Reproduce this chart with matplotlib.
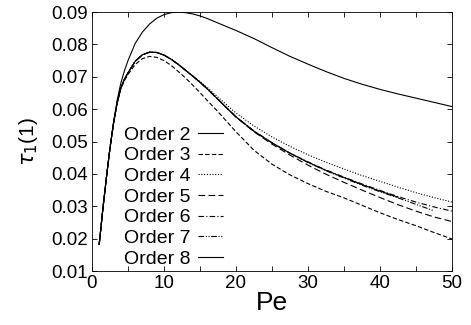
#import
import matplotlib
matplotlib.use("Agg")
import matplotlib.pyplot as plt

plt.rcParams['font.family'] = ['Liberation Sans', 'DejaVu Sans']
plt.rcParams['mathtext.fontset'] = 'dejavusans'

#data
pe = [1, 1.5, 2, 2.5, 3, 3.5, 4, 4.5, 5, 6, 7, 8, 9, 10, 11, 12, 13, 14, 15, 16,
      17.5, 20, 22.5, 25, 27.5, 30, 32.5, 35, 37.5, 40, 42.5, 45, 47.5, 50]

order2 = [0.0182, 0.0290, 0.0388, 0.0480, 0.0560, 0.0628, 0.0680, 0.0718, 0.0750, 0.0803,
          0.0838, 0.0863, 0.0881, 0.0892, 0.0898, 0.0900, 0.0898, 0.0894, 0.0888, 0.0880,
          0.0866, 0.0843, 0.0818, 0.0790, 0.0763, 0.0739, 0.0716, 0.0695, 0.0677, 0.0661,
          0.0647, 0.0634, 0.0621, 0.0608]
order3 = [0.0182, 0.0290, 0.0388, 0.0480, 0.0557, 0.0618, 0.0662, 0.0688, 0.0707, 0.0738,
          0.0756, 0.0763, 0.0760, 0.0750, 0.0735, 0.0716, 0.0696, 0.0674, 0.0651, 0.0627,
          0.0592, 0.0530, 0.0473, 0.0430, 0.0397, 0.0370, 0.0346, 0.0326, 0.0303, 0.0280,
          0.0259, 0.0240, 0.0219, 0.0199]
order4 = [0.0182, 0.0290, 0.0388, 0.0480, 0.0558, 0.0620, 0.0665, 0.0692, 0.0712, 0.0748,
          0.0768, 0.0776, 0.0775, 0.0767, 0.0754, 0.0738, 0.0720, 0.0702, 0.0685, 0.0667,
          0.0637, 0.0588, 0.0548, 0.0514, 0.0485, 0.0459, 0.0436, 0.0415, 0.0395, 0.0377,
          0.0359, 0.0342, 0.0327, 0.0313]
order5 = [0.0182, 0.0290, 0.0388, 0.0480, 0.0558, 0.0620, 0.0665, 0.0692, 0.0712, 0.0748,
          0.0768, 0.0776, 0.0775, 0.0767, 0.0754, 0.0738, 0.0720, 0.0702, 0.0683, 0.0663,
          0.0630, 0.0576, 0.0530, 0.0492, 0.0458, 0.0427, 0.0399, 0.0374, 0.0350, 0.0327,
          0.0305, 0.0285, 0.0267, 0.0253]
order6 = [0.0182, 0.0290, 0.0388, 0.0480, 0.0558, 0.0620, 0.0665, 0.0692, 0.0712, 0.0748,
          0.0768, 0.0776, 0.0775, 0.0767, 0.0754, 0.0738, 0.0720, 0.0702, 0.0683, 0.0663,
          0.0630, 0.0576, 0.0532, 0.0496, 0.0464, 0.0437, 0.0412, 0.0390, 0.0369, 0.0349,
          0.0330, 0.0313, 0.0298, 0.0285]
# orders 7 and 8 stop before Pe = 50
order7 = [0.0182, 0.0290, 0.0388, 0.0480, 0.0558, 0.0620, 0.0665, 0.0692, 0.0712, 0.0748,
          0.0768, 0.0776, 0.0775, 0.0767, 0.0754, 0.0738, 0.0720, 0.0702, 0.0683, 0.0663,
          0.0630, 0.0576, 0.0532, 0.0496, 0.0464, 0.0435, 0.0410, 0.0387, 0.0365, 0.0345,
          0.0326, 0.0306, 0.0286]
order8 = [0.0182, 0.0290, 0.0388, 0.0480, 0.0558, 0.0620, 0.0665, 0.0692, 0.0712, 0.0748,
          0.0768, 0.0776, 0.0775, 0.0767, 0.0754, 0.0738, 0.0720, 0.0702, 0.0683, 0.0663,
          0.0630, 0.0576, 0.0532, 0.0496, 0.0464, 0.0436, 0.0411, 0.0389, 0.0367, 0.0347,
          0.0328]

labels = ["Order 2", "Order 3", "Order 4", "Order 5", "Order 6", "Order 7", "Order 8"]
curves = [order2, order3, order4, order5, order6, order7, order8]
styles = ['-', (0, (4, 2)), (0, (1, 1.5)), (0, (6, 3)), (0, (5, 2, 1, 2)),
          (0, (5, 1.5, 1, 1.5, 1, 1.5)), '-']

#plot
fig = plt.figure(figsize=(4.71, 3.25), dpi=100)
ax = fig.add_axes([0.1953, 0.166, 0.7644, 0.797])

for lab, y, ls in zip(labels, curves, styles):
    ax.plot(pe[:len(y)], y, color='black', linestyle=ls, linewidth=0.8, label=lab)

ax.set_xlim(0, 50)
ax.set_ylim(0.01, 0.09)
ax.set_xticks([0, 10, 20, 30, 40, 50])
ax.set_xticks([5, 15, 25, 35, 45], minor=True)
ax.set_yticks([0.01, 0.02, 0.03, 0.04, 0.05, 0.06, 0.07, 0.08, 0.09])
ax.set_yticklabels(["%.2f" % v for v in ax.get_yticks()])
ax.tick_params(which='both', direction='in', top=True, right=True, labelsize=13.5,
               length=3.5, width=0.6, pad=3)
for s in ax.spines.values():
    s.set_linewidth(0.6)

ax.set_xlabel("Pe", fontsize=19, labelpad=-1)
ax.set_ylabel(r"$\tau_1$(1)", fontsize=15, labelpad=8)

ax.legend(loc='upper left', bbox_to_anchor=(0.089, 0.56), frameon=False, markerfirst=False,
          fontsize=14, labelspacing=0.16, handlelength=1.3, handletextpad=0.36,
          borderpad=0, borderaxespad=0)

fig.savefig("out.png", dpi=100)
